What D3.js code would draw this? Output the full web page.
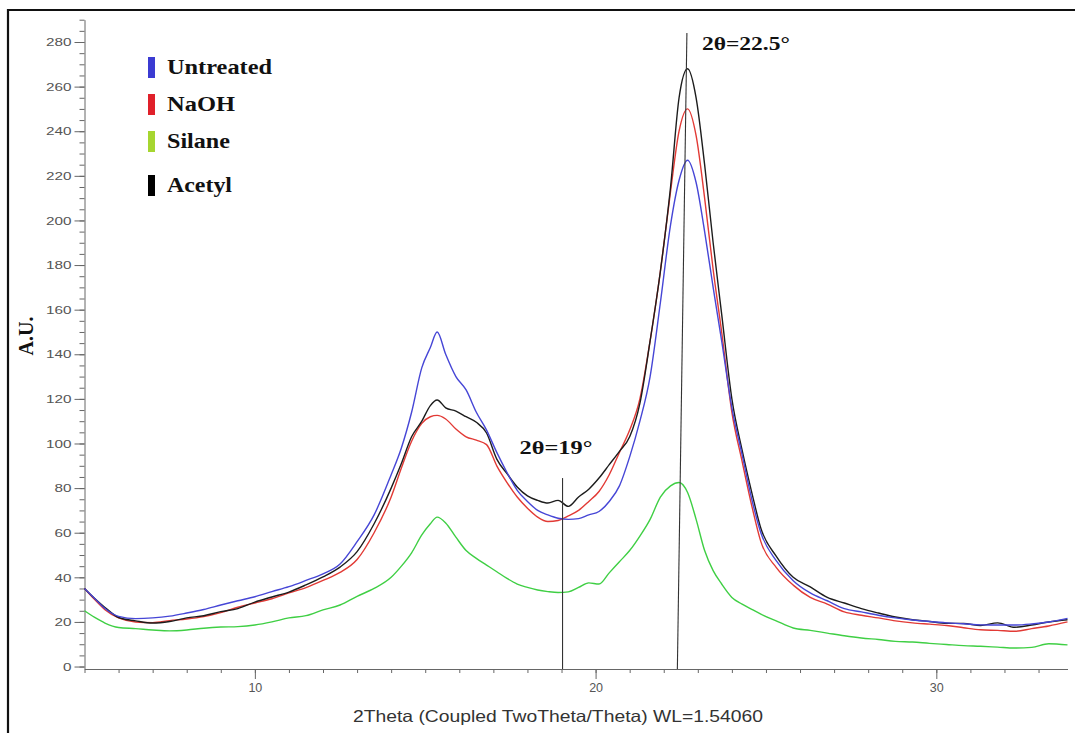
<!DOCTYPE html>
<html>
<head>
<meta charset="utf-8">
<script src="https://cdn.jsdelivr.net/npm/d3@7"></script>
<style>
  body { margin: 0; background: #fff; }
  svg { display: block; }
  .tick text { font-family: "Liberation Sans", Arial, sans-serif; fill: #555; }
  .serif { font-family: "Liberation Serif", "Times New Roman", serif; font-weight: bold; fill: #111; }
</style>
</head>
<body>
<div id="wrapper"></div>
<script>
const width = 1075,
    height = 733;

// 2theta grid (degrees)
const twoTheta = [5, 5.3, 5.6, 6, 6.5, 7, 7.5, 8, 8.5, 9, 9.5, 10, 10.5, 11, 11.5, 12, 12.5, 13, 13.5, 14,
    14.3, 14.6, 14.9, 15.15, 15.35, 15.6, 15.9, 16.2, 16.5, 16.8, 17.1, 17.4, 17.7, 18, 18.3, 18.6, 18.9, 19.2,
    19.5, 19.8, 20.1, 20.4, 20.7, 21, 21.3, 21.6, 21.9, 22.2, 22.45, 22.7, 22.95, 23.2, 23.45, 23.7, 24, 24.3,
    24.6, 24.85, 25.3, 25.8, 26.3, 26.8, 27.3, 27.8, 28.3, 28.8, 29.3, 29.8, 30.3, 30.8, 31.3, 31.8, 32.3,
    32.8, 33.3, 33.85];

const untreated = [35, 30.5, 26, 22.5, 21.5, 21.8, 22.6, 24, 25.6, 27.6, 29.5, 31.3, 33.6, 35.8, 38.6, 41.6, 46, 56, 68, 86,
    98, 114, 134, 143, 150, 140, 130, 124, 114, 106, 96, 87, 79, 74, 70, 68, 66.5, 66,
    66.3, 68, 69.5, 74, 81, 94, 110, 130, 163, 198, 218, 227, 217, 195, 170, 146, 116, 95,
    74, 60, 47.5, 38.5, 33, 29.5, 26, 24.5, 23, 21.8, 20.9, 20.2, 19.6, 19.2, 18.7, 18.6, 18.6,
    19.1, 20, 21.6];

const naoh = [35, 30, 25.5, 21.8, 20, 19.7, 20.6, 21.3, 22.4, 24.2, 26.6, 28.5, 30.4, 33, 35.4, 38.6, 42.2, 48, 60, 76,
    89, 101, 109, 112, 112.6, 111, 106.5, 103, 101.5, 99.5, 90, 82.5, 76, 71, 67, 65, 65.5, 67.5,
    70, 74, 78.5, 86, 96, 106, 120, 146, 177, 213, 240, 250, 238, 210, 178, 150, 114, 92,
    71, 56, 44.5, 36.5, 31, 28, 24.5, 23, 21.8, 20.5, 19.6, 19, 18.4, 17.4, 16.5, 16.2, 15.8,
    17, 18.2, 20];

const silane = [25, 22, 19.5, 17.5, 17, 16.4, 16, 16.4, 17.2, 17.7, 17.9, 18.6, 20, 21.8, 22.8, 25.4, 27.6, 31.5, 35, 40,
    45, 51, 59, 64, 67, 64.4, 58, 52, 48.5, 45.5, 42.5, 39.5, 37, 35.5, 34.3, 33.6, 33.2, 33.5,
    35.5, 37.5, 37, 42, 47, 52, 58.5, 66, 76, 81, 82.5, 78, 66, 52, 43, 37, 31, 28,
    25.5, 23.5, 20.5, 17.3, 16.2, 15, 13.8, 12.8, 12.1, 11.3, 11, 10.4, 9.9, 9.4, 9.1, 8.7, 8.3,
    8.6, 10.2, 9.7];

const acetyl = [35, 30.5, 26.5, 22, 20.5, 19.5, 20.2, 21.8, 22.8, 24.6, 26, 28.9, 31.2, 33.4, 36.6, 40.2, 44.6, 51.5, 64, 80,
    91, 103, 110, 117, 119.5, 116, 114.5, 112, 109.5, 104.7, 93, 86.5, 80.5, 76.5, 74.5, 73.3, 74.5, 71.8,
    76, 79.5, 84.5, 90.5, 96.5, 103, 118, 146, 177, 215, 255, 268, 255, 225, 190, 158, 120, 97,
    77, 62, 49.5, 40, 35.7, 31, 28.5, 26, 24, 22.2, 21, 20.2, 19.4, 19.3, 18.4, 19.6, 17.6,
    18.6, 20, 21];

const seriesNames = ["Untreated", "NaOH", "Silane", "Acetyl"];
const seriesValues = [untreated, naoh, silane, acetyl];
const lineColors = ["#4646d6", "#e23a35", "#3fcf44", "#1c1c1c"];
const legendColors = ["#3b3bd2", "#e0202a", "#a6d630", "#000000"];
const drawOrder = [2, 1, 3, 0];

const yMajor = d3.range(0, 281, 20);
const yMinor = d3.range(0, 291, 5);
const xMajor = [10, 20, 30];
const xMinor = d3.range(5, 34, 1);

const xTitle = "2Theta (Coupled TwoTheta/Theta) WL=1.54060";
const yTitle = "A.U.";
const peakLabels = ["2θ=19°", "2θ=22.5°"];

const svg = d3.select("#wrapper")
    .append("svg")
    .attr("width", width)
    .attr("height", height);

svg.append("rect").attr("width", width).attr("height", height).attr("fill", "#fff");

// outer frame (top and left edges are visible)
svg.append("path")
    .attr("d", "M8,733 V10 H1075")
    .attr("fill", "none")
    .attr("stroke", "#111")
    .attr("stroke-width", 2.2);

const x = d3.scaleLinear().domain([5, 33.85]).range([84.5, 1067.5]);
const y = d3.scaleLinear().domain([-1.1, 290]).range([669, 19.7]);

// y axis
const yAxisG = svg.append("g").attr("transform", "translate(84.5,0)");
yAxisG.call(d3.axisLeft(y).tickValues(yMinor).tickSize(5).tickSizeOuter(0).tickFormat(""));
yAxisG.append("g").call(d3.axisLeft(y).tickValues(yMajor).tickSize(10).tickSizeOuter(0).tickPadding(3))
    .call(g => g.select(".domain").remove());
yAxisG.selectAll("text")
    .attr("font-size", 11.5)
    .attr("textLength", d => String(d).length * 8.5)
    .attr("lengthAdjust", "spacingAndGlyphs");

// x axis
const xAxisG = svg.append("g").attr("transform", "translate(0,669)");
xAxisG.call(d3.axisBottom(x).tickValues(xMinor).tickSize(4).tickSizeOuter(0).tickFormat(""));
xAxisG.append("g").call(d3.axisBottom(x).tickValues(xMajor).tickSize(10).tickSizeOuter(0).tickPadding(4))
    .call(g => g.select(".domain").remove());
xAxisG.selectAll("text").attr("font-size", 12.5);

svg.selectAll(".domain, .tick line").attr("stroke", "#666");

// axis titles
svg.append("text")
    .attr("x", 353).attr("y", 722)
    .attr("font-family", "Liberation Sans, Arial, sans-serif")
    .attr("font-size", 16.5)
    .attr("fill", "#333")
    .attr("textLength", 410)
    .attr("lengthAdjust", "spacingAndGlyphs")
    .text(xTitle);

svg.append("text")
    .attr("class", "serif")
    .attr("transform", "translate(33,336) rotate(-90)")
    .attr("text-anchor", "middle")
    .attr("font-size", 20)
    .text(yTitle);

// series
const line = d3.line()
    .x((d, i) => x(twoTheta[i]))
    .y(d => y(d))
    .curve(d3.curveMonotoneX);

svg.append("g")
    .selectAll("path")
    .data(drawOrder)
    .enter().append("path")
    .attr("d", k => line(seriesValues[k]))
    .attr("fill", "none")
    .attr("stroke", k => lineColors[k])
    .attr("stroke-width", 1.4)
    .attr("stroke-linejoin", "round");

// peak marker lines
const mark = svg.append("g").attr("stroke", "#333").attr("stroke-width", 1.1);
mark.append("line")
    .attr("x1", x(19.03)).attr("y1", y(84.5))
    .attr("x2", x(19.03)).attr("y2", y(-1.1));
mark.append("line")
    .attr("x1", x(22.68)).attr("y1", y(284))
    .attr("x2", x(22.4)).attr("y2", y(-1.1));

svg.append("text")
    .attr("class", "serif")
    .attr("x", x(19.03) - 43).attr("y", y(84.5) - 24)
    .attr("font-size", 19)
    .attr("textLength", 73)
    .attr("lengthAdjust", "spacingAndGlyphs")
    .text(peakLabels[0]);

svg.append("text")
    .attr("class", "serif")
    .attr("x", x(22.68) + 15).attr("y", y(284) + 17)
    .attr("font-size", 19)
    .attr("textLength", 88)
    .attr("lengthAdjust", "spacingAndGlyphs")
    .text(peakLabels[1]);

// legend
const legendTop = [57, 94, 131, 175];
const legendWidth = [105, 68, 63, 65];
const legend = svg.append("g")
    .selectAll("g")
    .data(seriesNames)
    .enter().append("g")
    .attr("transform", (d, i) => "translate(148," + legendTop[i] + ")");

legend.append("rect")
    .attr("width", 7)
    .attr("height", 21)
    .attr("fill", (d, i) => legendColors[i]);

legend.append("text")
    .attr("class", "serif")
    .attr("x", 19).attr("y", 17)
    .attr("font-size", 20)
    .attr("textLength", (d, i) => legendWidth[i])
    .attr("lengthAdjust", "spacingAndGlyphs")
    .text(d => d);
</script>
</body>
</html>
